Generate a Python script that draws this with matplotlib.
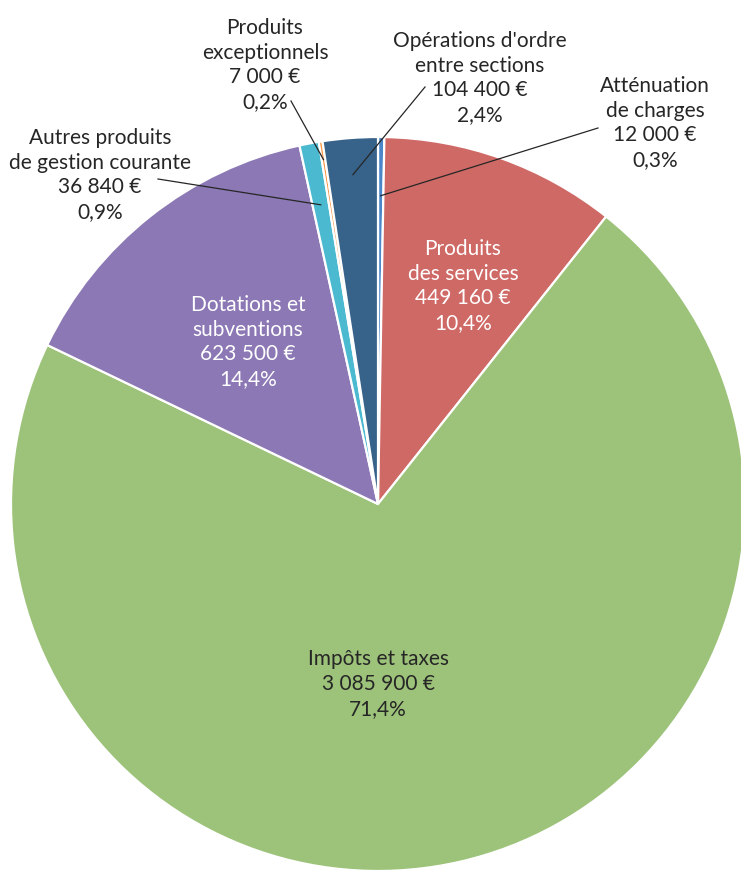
import numpy as np
import matplotlib.pyplot as plt

plt.rcParams['font.family'] = ['Lato', 'DejaVu Sans']

# data, clockwise from 12 o'clock
names = ["Atténuation\nde charges", "Produits\ndes services", "Impôts et taxes",
         "Dotations et\nsubventions", "Autres produits\nde gestion courante",
         "Produits\nexceptionnels", "Opérations d'ordre\nentre sections"]
amounts = [12000, 449160, 3085900, 623500, 36840, 7000, 104400]
shares = ["0,3%", "10,4%", "71,4%", "14,4%", "0,9%", "0,2%", "2,4%"]
colors = ["#4a86c8", "#cf6966", "#9dc37a", "#8b78b4", "#4bbad0", "#f79646", "#376289"]

W, H = 741, 871
cx, cy, R = 378, 504, 367  # pie centre and radius in pixels

def to_data(px, py):
    return (px - cx) / R, (cy - py) / R

fig = plt.figure(figsize=(W / 100, H / 100), dpi=100)
ax = fig.add_axes([0, 0, 1, 1])

wedges, _ = ax.pie(amounts, colors=colors, startangle=90, counterclock=False,
                   radius=1, wedgeprops=dict(edgecolor='white', linewidth=1.6))
ax.set_aspect('auto')
ax.set_xlim(-cx / R, (W - cx) / R)
ax.set_ylim(-(H - cy) / R, cy / R)
ax.axis('off')

def fmt(v):
    return f"{v:,}".replace(",", " ") + " €"

# label placement: (text centre px, text centre py, color, leader start px/py or None, leader radius)
layout = [
    (655, 123, "#262626", (598, 128), 0.84),
    (463, 286, "white", None, None),
    (378, 684, "#262626", None, None),
    (248, 342, "white", None, None),
    (100, 175, "#262626", (158, 179), 0.83),
    (265, 65, "#262626", (291, 101), 0.95),
    (480, 78, "#262626", (425, 87), 0.90),
]

for w, name, v, s, (px, py, col, lead, lr) in zip(wedges, names, amounts, shares, layout):
    x, y = to_data(px, py)
    ax.text(x, y, f"{name}\n{fmt(v)}\n{s}", ha='center', va='center',
            fontsize=15, color=col, linespacing=1.3)
    if lead is not None:
        mid = np.deg2rad((w.theta1 + w.theta2) / 2)
        ex, ey = lr * np.cos(mid), lr * np.sin(mid)
        sx, sy = to_data(*lead)
        ax.plot([sx, ex], [sy, ey], color="#262626", lw=0.9)

fig.savefig("out.png", dpi=100)
